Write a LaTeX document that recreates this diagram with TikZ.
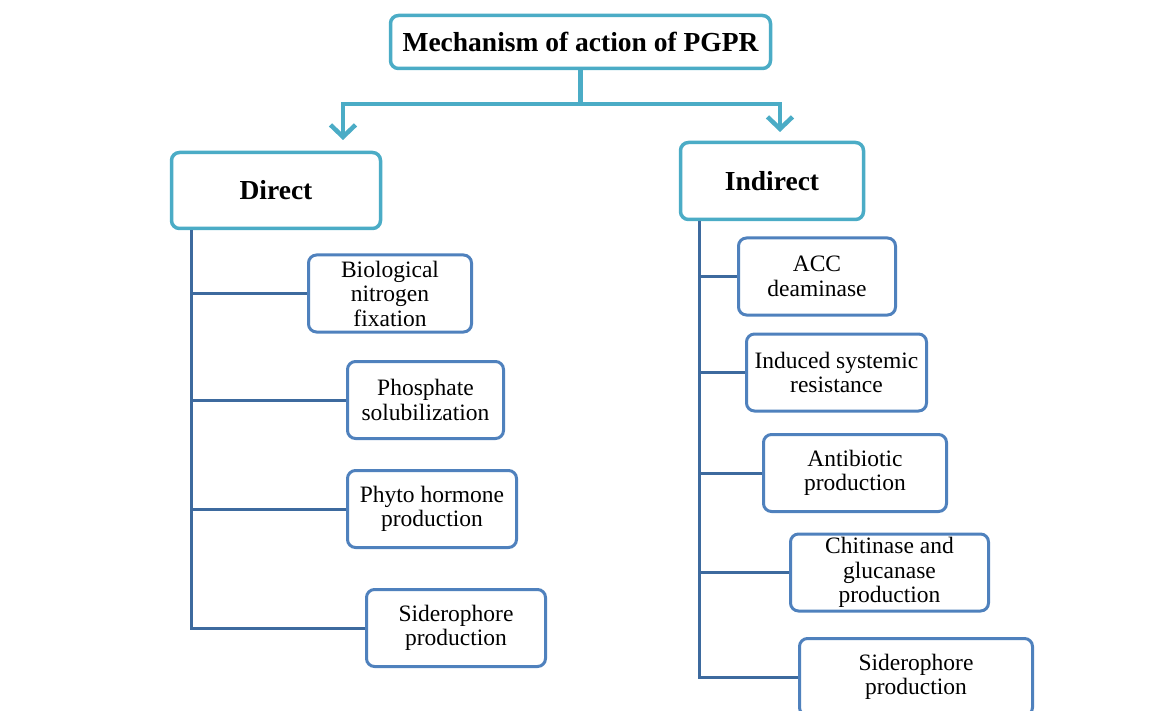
\documentclass[tikz,border=0pt]{standalone}
\usepackage{fontspec}
\setmainfont{Liberation Serif}
\usetikzlibrary{arrows.meta}
\definecolor{pgprteal}{HTML}{4BACC6}
\definecolor{pgprblue}{HTML}{4F81BD}
\definecolor{pgprdark}{HTML}{3D6A9E}

\begin{document}
\begin{tikzpicture}[x=1pt,y=-1pt,
 head/.style={draw=pgprteal,line width=3.5pt,rounded corners=8pt,fill=white,align=center,font=\fontsize{27.5}{30}\selectfont\bfseries},
 leaf/.style={draw=pgprblue,line width=3pt,rounded corners=8pt,fill=white,align=center,minimum height=77pt,font=\fontsize{23.5}{24.5}\selectfont},
 split/.style={draw=pgprteal,line width=4.5pt},
 tree/.style={draw=pgprdark,line width=3pt}]
\useasboundingbox (0,0) rectangle (1156,711);
\node[head,minimum width=380pt,minimum height=53pt] (title) at (580.5,42) {Mechanism of action of PGPR};
\node[head,minimum width=209pt,minimum height=76pt] (direct) at (276,190.5) {Direct};
\node[head,minimum width=183pt,minimum height=77pt] (indirect) at (772,181) {Indirect};
\coordinate (fork) at (580.5,104);
\coordinate (ltip) at (343,140);
\coordinate (rtip) at (780,132);
\draw[split] (title.south)--(fork);
\draw[split,-{Straight Barb[length=12pt,width=25pt]}] (fork)-|(ltip);
\draw[split,-{Straight Barb[length=12pt,width=25pt]}] (fork)-|(rtip);
\foreach \x/\y/\w/\id/\name in {390/293.5/163/bio/Biological\\nitrogen\\fixation,425.5/400/156/phos/Phosphate\\solubilization,432/509/169/phyto/Phyto hormone\\production,456/628/179/sidl/Siderophore\\production}{
\node[leaf,minimum width=\w pt] (\id) at (\x,\y) {\name};}
\foreach \x/\y/\w/\id/\name in {817/276.5/157/acc/ACC\\deaminase,836.5/372.5/180/isr/Induced systemic\\resistance,855/473/183/anti/Antibiotic\\production,889.5/572.5/198/chit/Chitinase and\\glucanase\\production,916/677/233/sidr/Siderophore\\production}{
\node[leaf,minimum width=\w pt] (\id) at (\x,\y) {\name};}
\coordinate (dtop) at ([xshift=22pt]direct.south west);
\coordinate (itop) at ([xshift=21pt]indirect.south west);
\draw[tree] (dtop)|-(sidl.west);
\foreach \id in {bio,phos,phyto}{\draw[tree] (dtop|-\id.west)--(\id.west);}
\draw[tree] (itop)|-(sidr.west);
\foreach \id in {acc,isr,anti,chit}{\draw[tree] (itop|-\id.west)--(\id.west);}
\end{tikzpicture}
\end{document}
